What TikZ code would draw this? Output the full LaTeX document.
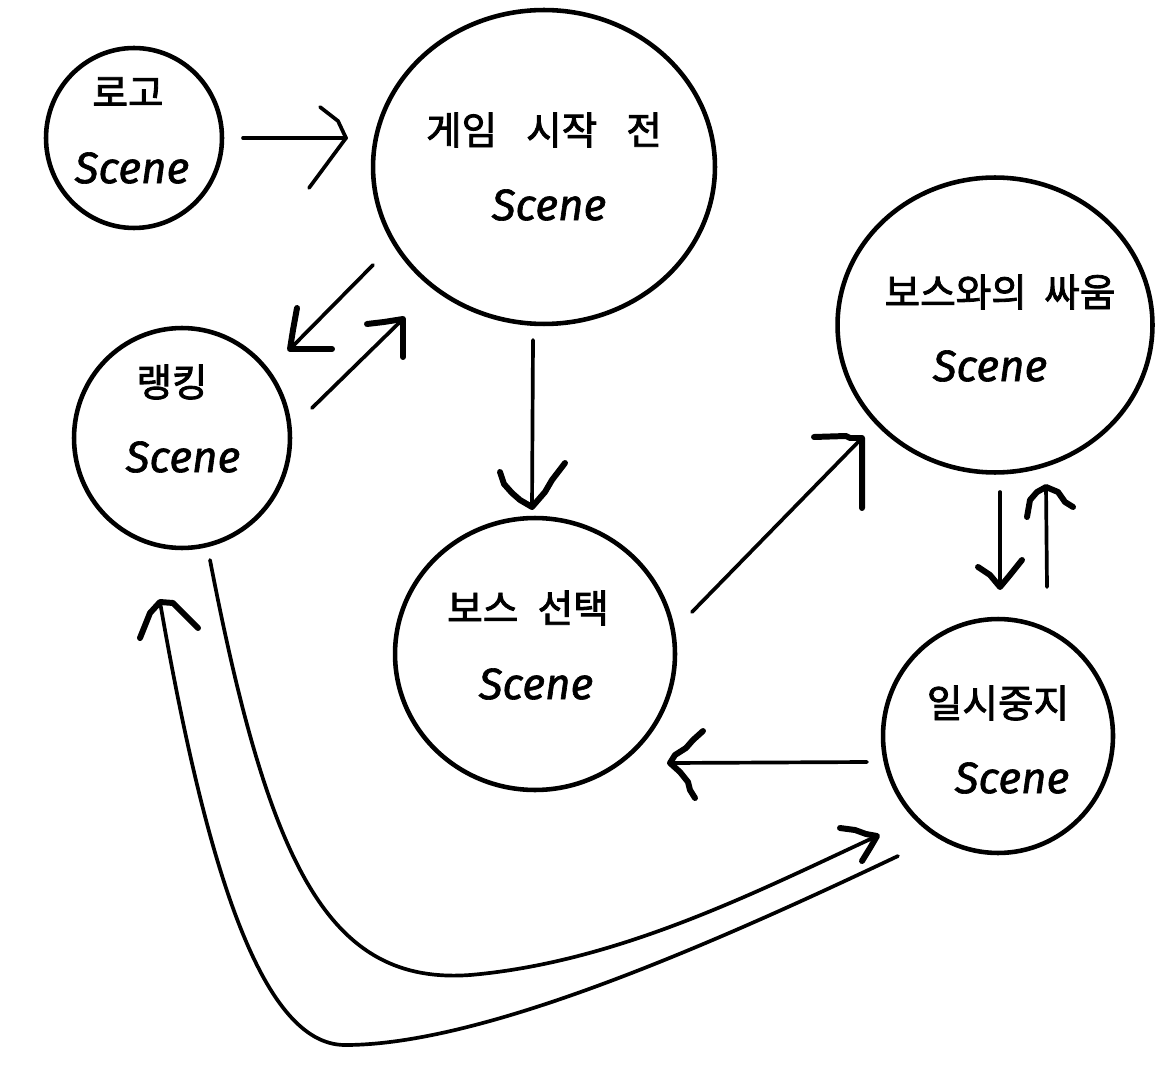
\documentclass[tikz,border=0pt]{standalone}
\usepackage{fontspec}
\newfontfamily\krfont{Noto Sans CJK KR}[BoldFont={Noto Sans CJK KR}, BoldFeatures={FakeBold=2.2}]
\newfontfamily\scfont{Fira Sans}[BoldItalicFont={Fira Sans Italic}, BoldItalicFeatures={FakeBold=1.4}]
\usetikzlibrary{shapes.geometric,calc}
\tikzset{
  circ/.style={ellipse, draw, line width=2.6pt, inner sep=0pt},
  conn/.style={line width=2.1pt, line cap=round},
  thinhead/.style={line width=2.1pt, line cap=round, line join=round},
  head/.style={line width=3.4pt, line cap=round, line join=round},
  krtext/.style={font=\krfont\bfseries\fontsize{22}{26}\selectfont, inner sep=0pt},
  sctext/.style={font=\scfont\bfseries\itshape\fontsize{25}{30}\selectfont, inner sep=0pt},
}
\begin{document}
\begin{tikzpicture}[x=0.02cm,y=-0.02cm]
\useasboundingbox[fill=white] (0,0) rectangle (1175,1087);

% circles
\node[circ, minimum width=3.52cm, minimum height=3.6cm] (logo) at (134,138) {};
\node[circ, minimum width=6.84cm, minimum height=6.28cm] (game) at (544,167) {};
\node[circ, minimum width=6.3cm, minimum height=5.9cm] (fight) at (995,325) {};
\node[circ, minimum width=4.32cm, minimum height=4.4cm] (rank) at (182,438) {};
\node[circ, minimum width=5.6cm, minimum height=5.44cm] (select) at (535,654) {};
\node[circ, minimum width=4.6cm, minimum height=4.68cm] (pause) at (998,736) {};

% labels
\node[krtext] (logoK) at (128,92) {로고};
\node[sctext] (logoS) at (132,168) {Scene};
\node[krtext] (gameK) at (544,130) {게임\hspace{0.75em}시작\hspace{0.75em}전};
\node[sctext] (gameS) at (549,205) {Scene};
\node[krtext] (fightK) at (1000,292) {보스와의\hspace{0.45em}싸움};
\node[sctext] (fightS) at (990,366) {Scene};
\node[krtext] (rankK) at (172,382) {랭킹};
\node[sctext] (rankS) at (183,457) {Scene};
\node[krtext] (selectK) at (528,608) {보스\hspace{0.5em}선택};
\node[sctext] (selectS) at (536,684) {Scene};
\node[krtext] (pauseK) at (998,703) {일시중지};
\node[sctext] (pauseS) at (1012,778) {Scene};

% connector end points
\coordinate (a1s) at (243,138);  \coordinate (a1t) at (346,138);
\coordinate (a2s) at (373,265);  \coordinate (a2t) at (290,349);
\coordinate (a3s) at (312,408);  \coordinate (a3t) at (403,319);
\coordinate (a4s) at (533,340);  \coordinate (a4t) at (532,507);
\coordinate (a5s) at (692,612);  \coordinate (a5t) at (862,438);
\coordinate (a6s) at (1000,492); \coordinate (a6t) at (1000,587);
\coordinate (a7s) at (1047,587); \coordinate (a7t) at (1046,487);
\coordinate (a8s) at (867,762);  \coordinate (a8t) at (670,763);
\coordinate (a9s) at (210,560);  \coordinate (a9t) at (877,836);
\coordinate (a10s) at (898,856); \coordinate (a10t) at (160,602);

% 로고 -> 게임 시작 전
\draw[conn] (a1s) -- (a1t);
\draw[thinhead] ($(a1t)+(-26,-31)$) -- ($(a1t)+(-8,-17)$) -- (a1t) -- ($(a1t)+(-37,50)$);

% 게임 시작 전 -> 랭킹
\draw[conn] (a2s) -- (a2t);
\draw[head] ($(a2t)+(7,-41)$) -- ($(a2t)+(3,-19)$) -- (a2t) -- ($(a2t)+(42,0)$);

% 랭킹 -> 게임 시작 전
\draw[conn] (a3s) -- (a3t);
\draw[head] ($(a3t)+(-36,5)$) -- ($(a3t)+(-19,3)$) -- (a3t) -- ($(a3t)+(0,38)$);

% 게임 시작 전 -> 보스 선택
\draw[conn] (a4s) -- (a4t);
\draw[head] ($(a4t)+(-32,-35)$) -- ($(a4t)+(-28,-23)$) -- ($(a4t)+(-20,-14)$) -- ($(a4t)+(-12,-7)$) -- (a4t)
  -- ($(a4t)+(13,-15)$) -- ($(a4t)+(20,-27)$) -- ($(a4t)+(33,-44)$);

% 보스 선택 -> 보스와의 싸움
\draw[conn] (a5s) -- (a5t);
\draw[head] ($(a5t)+(-48,-1)$) -- ($(a5t)+(-16,-2)$) -- ($(a5t)+(-12,0)$) -- (a5t) -- ($(a5t)+(0,70)$);

% 보스와의 싸움 -> 일시중지
\draw[conn] (a6s) -- (a6t);
\draw[head] ($(a6t)+(-22,-20)$) -- ($(a6t)+(-10,-12)$) -- (a6t) -- ($(a6t)+(10,-12)$) -- ($(a6t)+(22,-27)$);

% 일시중지 -> 보스와의 싸움
\draw[conn] (a7s) -- (a7t);
\draw[head] ($(a7t)+(-19,30)$) -- ($(a7t)+(-16,13)$) -- ($(a7t)+(-9,5)$) -- (a7t)
  -- ($(a7t)+(12,5)$) -- ($(a7t)+(19,15)$) -- ($(a7t)+(27,20)$);

% 일시중지 -> 보스 선택
\draw[conn] (a8s) -- (a8t);
\draw[head] ($(a8t)+(33,-32)$) -- ($(a8t)+(23,-23)$) -- ($(a8t)+(16,-15)$) -- ($(a8t)+(5,-8)$) -- (a8t)
  -- ($(a8t)+(10,9)$) -- ($(a8t)+(18,19)$) -- ($(a8t)+(20,27)$) -- ($(a8t)+(25,35)$);

% 랭킹 -> 일시중지 (curve)
\draw[conn] (a9s) .. controls (270,870) and (330,985) .. (470,975)
  .. controls (620,962) and (760,890) .. (a9t);
\draw[head] ($(a9t)+(-37,-8)$) -- ($(a9t)+(-22,-6)$) -- ($(a9t)+(-11,-2)$) -- (a9t) -- ($(a9t)+(-7,12)$) -- ($(a9t)+(-15,25)$);

% 일시중지 -> 랭킹 (curve)
\draw[conn] (a10s) .. controls (700,950) and (480,1045) .. (345,1045)
  .. controls (260,1045) and (205,860) .. (a10t);
\draw[head] ($(a10t)+(-20,36)$) -- ($(a10t)+(-10,11)$) -- (a10t) -- ($(a10t)+(13,1)$) -- ($(a10t)+(23,11)$) -- ($(a10t)+(38,26)$);

\end{tikzpicture}
\end{document}
